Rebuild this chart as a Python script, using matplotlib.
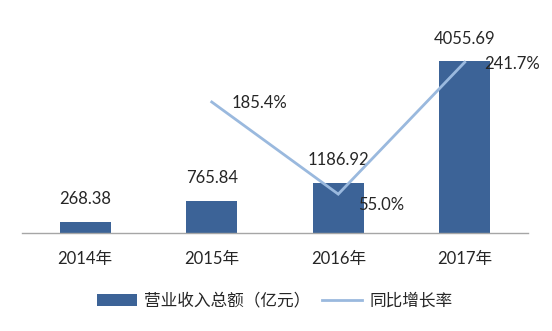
import numpy as np
import matplotlib
matplotlib.use("Agg")
import matplotlib.pyplot as plt

plt.rcParams['font.family'] = ['Lato', 'Noto Sans CJK SC', 'DejaVu Sans']

years = ["2014年", "2015年", "2016年", "2017年"]
revenue = [268.38, 765.84, 1186.92, 4055.69]          # 营业收入总额（亿元）
growth = [np.nan, 185.4, 55.0, 241.7]                 # 同比增长率 (%)
growth_labels = ["", "185.4%", "55.0%", "241.7%"]
revenue_labels = ["268.38", "765.84", "1186.92", "4055.69"]

bar_color = "#3c6397"
line_color = "#9ab9de"
text_color = "#262626"

fig = plt.figure(figsize=(5.52, 3.31), dpi=100)
ax = fig.add_axes([22 / 552, 98 / 331, 506 / 552, 212 / 331])
ax2 = ax.twinx()

x = np.arange(len(years))
bars = ax.bar(x, revenue, width=0.40, color=bar_color, zorder=2,
              label="营业收入总额（亿元）")
ax.set_xlim(-0.5, len(years) - 0.5)
ax.set_ylim(0, 5000)

line, = ax2.plot(x, growth, color=line_color, lw=2.0, zorder=3,
                 label="同比增长率", solid_joinstyle="miter")
ax2.set_ylim(0, 300)

# value labels above the bars
for xi, v, s in zip(x, revenue, revenue_labels):
    ax.annotate(s, (xi, v), xytext=(0, 16), textcoords="offset points",
                ha="center", va="center", fontsize=12, color=text_color)

# growth labels to the right of the points
nudges = [0, -1, -8, -1]
for xi, v, s, dy in zip(x, growth, growth_labels, nudges):
    if np.isnan(v):
        continue
    ax2.annotate(s, (xi, v), xytext=(14, dy), textcoords="offset points",
                 ha="left", va="center", fontsize=12, color=text_color,
                 zorder=5)

for a in (ax, ax2):
    for side in ("top", "right", "left"):
        a.spines[side].set_visible(False)
    a.set_yticks([])
ax.spines["bottom"].set_color("#a6a6a6")
ax.spines["bottom"].set_linewidth(1.0)
ax2.spines["bottom"].set_visible(False)

ax.set_xticks(x)
ax.set_xticklabels(years, fontsize=12, color=text_color)
ax.tick_params(axis="x", length=0, pad=13)

fig.legend([bars, line], ["营业收入总额（亿元）", "同比增长率"],
           loc="center", bbox_to_anchor=(275 / 552, 1 - 300.7 / 331),
           ncol=2, frameon=False, fontsize=12, handlelength=2.4,
           handletextpad=0.45, columnspacing=0.7, labelcolor=text_color)

fig.savefig("out.png", dpi=100, facecolor="white")
